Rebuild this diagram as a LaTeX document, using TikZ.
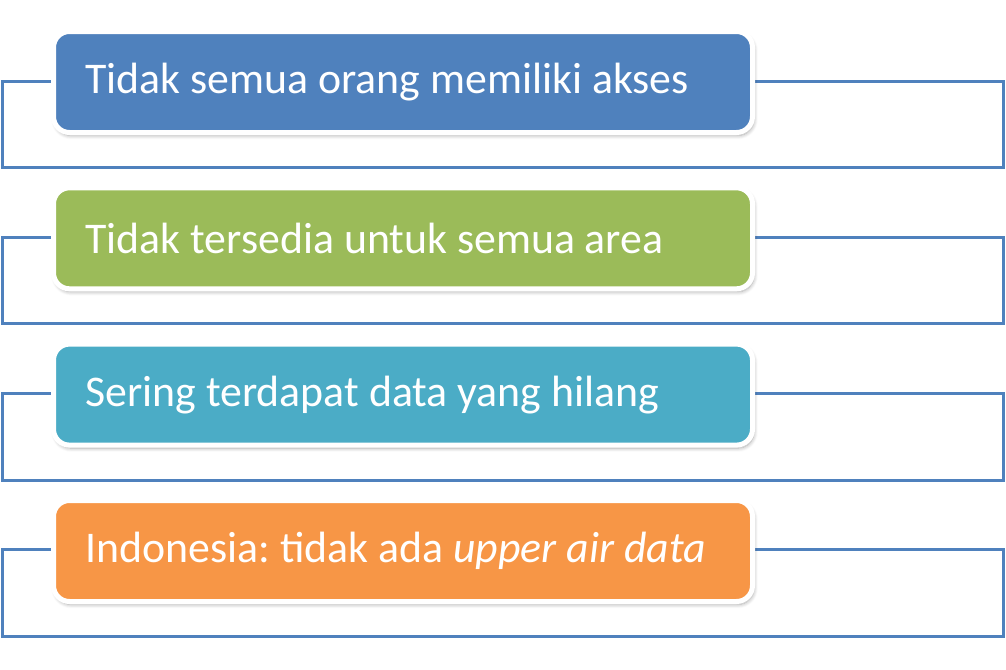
\documentclass[tikz,border=0pt]{standalone}
\usepackage{fontspec}
\setmainfont{Carlito}
\usepackage{xcolor}
\usetikzlibrary{shadows.blur}

\definecolor{itemBlue}{HTML}{4F81BD}
\definecolor{itemGreen}{HTML}{9BBB59}
\definecolor{itemAqua}{HTML}{4BACC6}
\definecolor{itemOrange}{HTML}{F79646}

\tikzset{
  itembox/.style={rectangle, draw=white, line width=2.5pt, rounded corners=8pt,
    minimum width=349.5pt, minimum height=50.5pt, inner xsep=16pt,
    text width=317.5pt, align=flush left, text=white,
    font=\fontsize{21.9}{25}\selectfont\frenchspacing,
    blur shadow={shadow xshift=0.8pt, shadow yshift=-1.5pt, shadow blur steps=6, shadow opacity=35}},
  framebox/.style={rectangle, draw=itemBlue, line width=1.5pt,
    minimum width=500.25pt, minimum height=43.25pt}
}

\begin{document}
\begin{tikzpicture}[x=0.5pt, y=-0.5pt]
    \useasboundingbox (0,0) rectangle (1006,669);

    % outline frames behind the items
    \node (frame1) [framebox] at (502.75,124.25) {};
    \node (frame2) [framebox] at (502.75,280.6) {};
    \node (frame3) [framebox] at (502.75,436.9) {};
    \node (frame4) [framebox] at (502.75,593.2) {};

    % coloured items
    \node (box1) [itembox, fill=itemBlue] at (403,82) {Tidak semua orang memiliki akses};
    \node (box2) [itembox, fill=itemGreen] at (403,238.3) {Tidak tersedia untuk semua area};
    \node (box3) [itembox, fill=itemAqua] at (403,394.6) {Sering terdapat data yang hilang};
    \node (box4) [itembox, fill=itemOrange] at (403,551) {Indonesia: tidak ada \textit{upper air data}};
\end{tikzpicture}
\end{document}
